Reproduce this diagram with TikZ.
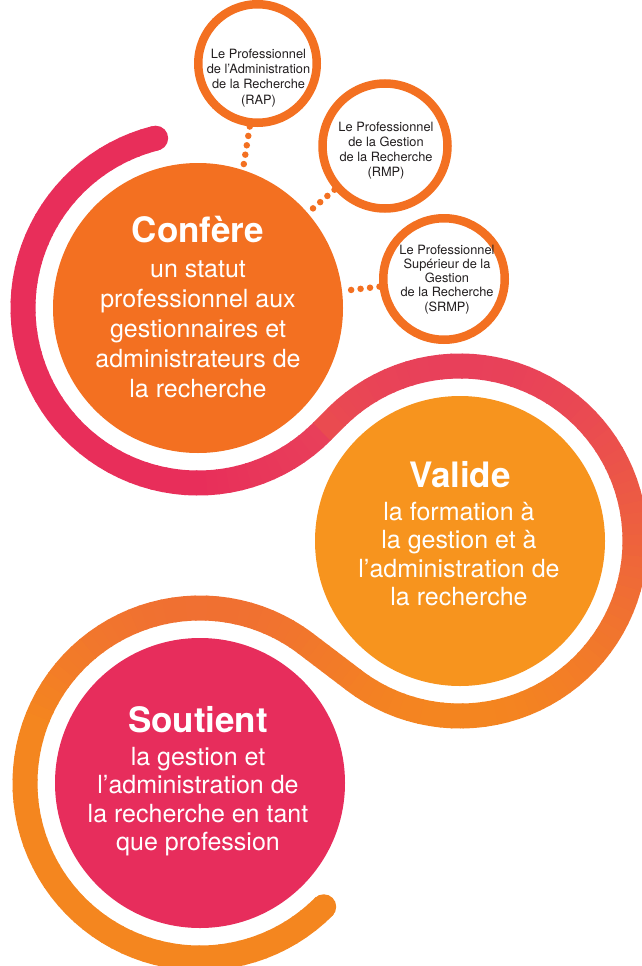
\documentclass[tikz,border=0pt]{standalone}
\usepackage{fontspec}
\setmainfont{TeX Gyre Heros}
\usetikzlibrary{calc}
\definecolor{confere}{RGB}{243,112,33}
\definecolor{valide}{RGB}{247,148,30}
\definecolor{soutient}{RGB}{231,45,92}
\definecolor{smallring}{RGB}{243,112,33}
\definecolor{smalltext}{RGB}{35,31,32}
\definecolor{ringA}{RGB}{232,46,90}
\definecolor{ringAA}{RGB}{232,64,90}
\definecolor{ringB}{RGB}{244,134,31}
\begin{document}
\begin{tikzpicture}[x=1pt,y=-1pt,
  ringline/.style={line width=25pt, line cap=butt},
  bigc/.style={circle, minimum size=290pt, inner sep=0pt},
  smallc/.style={circle, draw=smallring, line width=8.5pt, fill=white, inner sep=0pt},
  dotline/.style={draw=smallring, line width=6.5pt, line cap=round, dash pattern=on 0pt off 9.5pt},
  titletxt/.style={anchor=base, inner sep=0pt, text=white, font=\fontsize{35}{40}\selectfont\bfseries},
  bodytxt/.style={anchor=base, inner sep=0pt, text=white, font=\fontsize{25}{30}\selectfont},
  smalltxt/.style={anchor=base, inner sep=0pt, text=smalltext, font=\fontsize{12.8}{15}\selectfont}]
\useasboundingbox (0,0) rectangle (642,966);

% big circles
\node[bigc, fill=confere] (c1) at (198,308) {};
\node[bigc, fill=valide] (c2) at (460,541) {};
\node[bigc, fill=soutient] (c3) at (200,783) {};

% ring part A (around Confere)
\foreach \i in {0,...,59}{
  \pgfmathsetmacro\aa{256-\i*3.516667}
  \pgfmathsetmacro\ab{\aa-3.516667-0.5}
  \pgfmathsetmacro\am{\aa-1.758333}
  \pgfmathsetmacro\ff{100*max(0,min(1,(90-\am)/45))}
  \colorlet{segc}{ringAA!\ff!ringA}
  \draw[ringline,segc] ($(c1)+(\aa:175)$) arc[start angle=\aa,end angle=\ab,radius=175];
}
\fill[ringA] ($(c1)+(256:175)$) circle[radius=12.5];
% join 1
\coordinate (p1) at ($(c1)+(45:175)$);
\coordinate (q1) at ($(c2)+(225:175)$);
\colorlet{segc}{ringB!16.5!ringAA}
\draw[ringline,segc] (p1) -- ($(p1)!1.06!(q1)$);
% ring part B (around Valide)
\foreach \i in {0,...,74}{
  \pgfmathsetmacro\aa{225+\i*3.49653}
  \pgfmathsetmacro\ab{\aa+3.49653+0.5}
  \pgfmathsetmacro\am{\aa+1.748265}
  \pgfmathsetmacro\ff{100*max(0,min(1,(541+175*sin(\am)-366)/354))}
  \colorlet{segc}{ringB!\ff!ringAA}
  \draw[ringline,segc] ($(c2)+(\aa:175)$) arc[start angle=\aa,end angle=\ab,radius=175];
}
% join 2
\coordinate (p2) at ($(c2)+(127.24:175)$);
\coordinate (q2) at ($(c3)+(307.24:175)$);
\foreach \k in {0,...,5}{
  \pgfmathsetmacro\ta{\k/6}
  \pgfmathsetmacro\tb{(\k+1)/6+0.02}
  \pgfmathsetmacro\ff{100*max(0,min(1,(680.3-36.6*(\k+0.5)/6-366)/354))}
  \colorlet{segc}{ringB!\ff!ringAA}
  \draw[ringline,segc] ($(p2)!\ta!(q2)$) -- ($(p2)!\tb!(q2)$);
}
% ring part C (around Soutient)
\foreach \i in {0,...,74}{
  \pgfmathsetmacro\aa{307.24-\i*3.49653}
  \pgfmathsetmacro\ab{\aa-3.49653-0.5}
  \pgfmathsetmacro\am{\aa-1.748265}
  \pgfmathsetmacro\ff{100*max(0,min(1,(783+175*sin(\am)-366)/354))}
  \colorlet{segc}{ringB!\ff!ringAA}
  \draw[ringline,segc] ($(c3)+(\aa:175)$) arc[start angle=\aa,end angle=\ab,radius=175];
}
\fill[ringB] ($(c3)+(45:175)$) circle[radius=12.5];

% small circles
\node[smallc, minimum size=118.5pt] (rap) at (257.5,63.5) {};
\node[smallc, minimum size=125pt] (rmp) at (385,146) {};
\node[smallc, minimum size=121.5pt] (srmp) at (444,279) {};

% dotted connectors
\draw[dotline] (rap.-97) -- (c1.72.5);
\draw[dotline] (rmp) -- (c1);
\draw[dotline] (srmp) -- (c1);

% small circle texts
\foreach \linetext [count=\k] in {Le Professionnel,de l’Administration,de la Recherche,(RAP)}
  \node[smalltxt] (rapt-\k) at (258.5,{58.3+15.3*(\k-1)}) {\linetext};
\foreach \linetext [count=\k] in {Le Professionnel,de la Gestion,de la Recherche,(RMP)}
  \node[smalltxt] (rmpt-\k) at (386,{131.7+15*(\k-1)}) {\linetext};
\foreach \linetext [count=\k] in {Le Professionnel,Supérieur de la,Gestion,de la Recherche,(SRMP)}
  \node[smalltxt] (srmpt-\k) at (447,{254+14.25*(\k-1)}) {\linetext};

% big circle texts
\node[titletxt] (t1) at (198,242) {Confère};
\foreach \linetext [count=\k] in {un statut,professionnel aux,gestionnaires et,administrateurs de,la recherche}
  \node[bodytxt] (b1-\k) at (198,{277+30*(\k-1)}) {\linetext};
\node[titletxt] (t2) at (460,487) {Valide};
\foreach \linetext [count=\k] in {la formation à,la gestion et à,l’administration de,la recherche}
  \node[bodytxt] (b2-\k) at (459,{520+28.5*(\k-1)}) {\linetext};
\node[titletxt] (t3) at (198,732) {Soutient};
\foreach \linetext [count=\k] in {la gestion et,l’administration de,la recherche en tant,que profession}
  \node[bodytxt] (b3-\k) at (198,{765+28.5*(\k-1)}) {\linetext};
\end{tikzpicture}
\end{document}
